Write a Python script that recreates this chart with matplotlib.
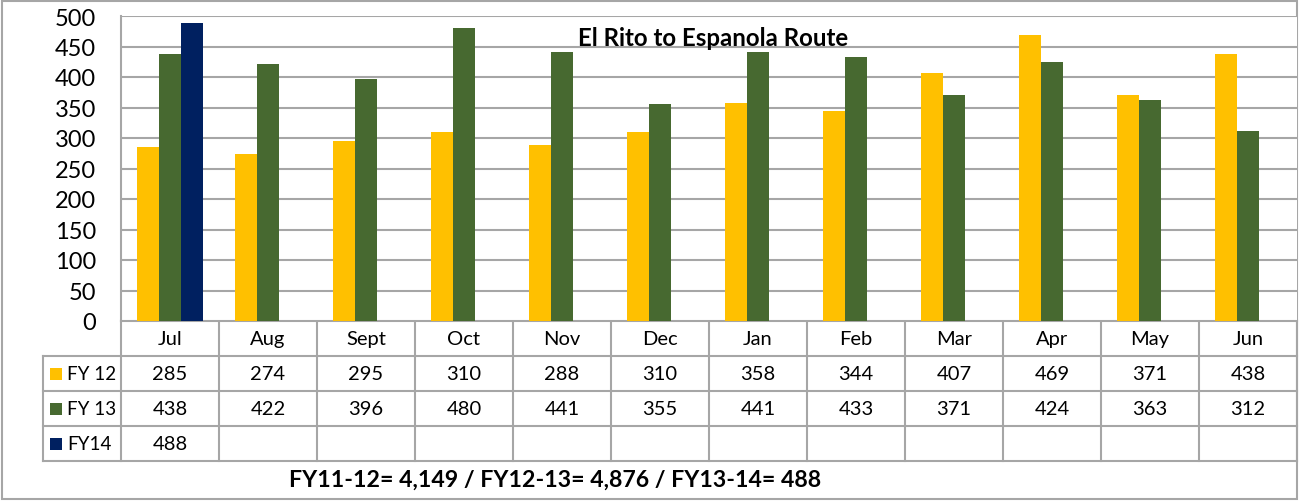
import matplotlib
matplotlib.use("Agg")
import matplotlib.pyplot as plt
from matplotlib.patches import Rectangle
import numpy as np

plt.rcParams['font.family'] = ['Lato', 'DejaVu Sans']

# Monthly ridership, El Rito to Espanola route
months = ["Jul", "Aug", "Sept", "Oct", "Nov", "Dec", "Jan", "Feb", "Mar", "Apr", "May", "Jun"]
series_names = ["FY 12", "FY 13", "FY14"]
fy12 = [285, 274, 295, 310, 288, 310, 358, 344, 407, 469, 371, 438]
fy13 = [438, 422, 396, 480, 441, 355, 441, 433, 371, 424, 363, 312]
fy14 = [488, None, None, None, None, None, None, None, None, None, None, None]
series = [fy12, fy13, fy14]
colors = ["#FFC000", "#476930", "#002060"]
y_ticks = list(range(0, 501, 50))
title = "El Rito to Espanola Route"
totals_text = "FY11-12= 4,149 / FY12-13= 4,876 / FY13-14= 488"

W, H = 1299, 502
fig = plt.figure(figsize=(W / 100, H / 100), dpi=100)
fig.patch.set_facecolor("white")

# pixel geometry of the plot area and the data table
px_left, px_right = 121, 1297
px_top, px_zero = 17, 322
row_h = 35
tbl_left = 43
grid_col = "#A6A6A6"

ax = fig.add_axes([px_left / W, 1 - px_zero / H, (px_right - px_left) / W, (px_zero - px_top) / H])
n = len(months)
x = np.arange(n)
bw = 0.224
offsets = [-bw, 0, bw]
for vals, off, col in zip(series, offsets, colors):
    xs = [xi + off for xi, v in zip(x, vals) if v is not None]
    hs = [v for v in vals if v is not None]
    ax.bar(xs, hs, width=bw, color=col, zorder=3, linewidth=0)

ax.set_xlim(-0.5, n - 0.5)
ax.set_ylim(0, 500)
ax.set_yticks(y_ticks)
ax.set_xticks([])
ax.tick_params(axis="y", length=0, pad=18, labelsize=17)
ax.yaxis.grid(True, color=grid_col, linewidth=1.5, zorder=0)
for s in ["top", "right", "bottom"]:
    ax.spines[s].set_visible(False)
ax.spines["left"].set_color(grid_col)
ax.spines["left"].set_linewidth(1.5)

# overlay in pixel coordinates for the title, data table and frame
ov = fig.add_axes([0, 0, 1, 1], zorder=-1)
ov.set_xlim(0, W)
ov.set_ylim(H, 0)
ov.axis("off")
col_w = (px_right - px_left) / n

fig.text(713 / W, 1 - 39 / H, title, ha="center", va="center",
         fontsize=17.3, fontweight="bold", zorder=5)

lw = 1.5
# header row and table grid
rows_bottom = px_zero + row_h * (1 + len(series))
ov.plot([px_left, px_right], [px_zero, px_zero], color=grid_col, lw=lw)
for r in range(1, len(series) + 2):
    y = px_zero + row_h * r
    ov.plot([tbl_left, px_right], [y, y], color=grid_col, lw=lw)
for c in range(n + 1):
    xc = px_left + c * col_w
    ov.plot([xc, xc], [px_zero, rows_bottom], color=grid_col, lw=lw)
ov.plot([tbl_left, tbl_left], [px_zero + row_h, rows_bottom], color=grid_col, lw=lw)

for c, m in enumerate(months):
    ov.text(px_left + (c + 0.5) * col_w, px_zero + row_h / 2, m,
            ha="center", va="center", fontsize=14.5)

for r, (name, vals, col) in enumerate(zip(series_names, series, colors)):
    yc = px_zero + row_h * (r + 1.5)
    ov.add_patch(Rectangle((50, yc - 6), 12, 12, color=col, lw=0))
    ov.text(67, yc, name, ha="left", va="center", fontsize=13.5)
    for c, v in enumerate(vals):
        if v is not None:
            ov.text(px_left + (c + 0.5) * col_w, yc, f"{v}",
                    ha="center", va="center", fontsize=14.5)

ov.text(555, 480, totals_text, ha="center", va="center", fontsize=16.7, fontweight="bold")

# outer chart frame
ov.add_patch(Rectangle((2, 1.5), W - 4, H - 3.5, fill=False, edgecolor=grid_col, lw=1.5))

fig.savefig("out.png", dpi=100, facecolor="white")
